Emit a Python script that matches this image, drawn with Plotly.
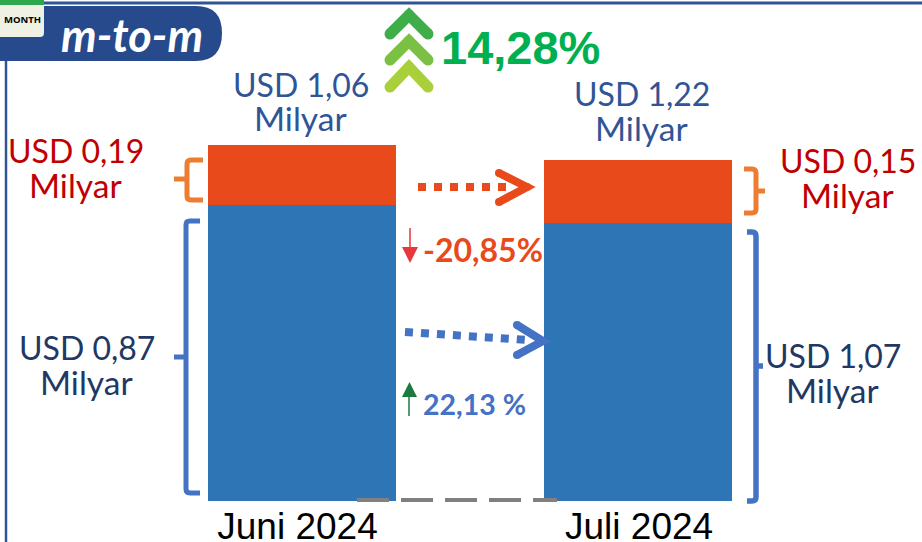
import plotly.graph_objects as go

W, H, BASE = 922, 542, 501

categories = ["Juni 2024", "Juli 2024"]
bar_positions = [0, 1]
label_positions = [-0.0134, 1.003]
# Bar heights as drawn in the picture (the drawing is not to scale with its labels)
ekspor_drawn = [0.87, 0.818]
impor_drawn = [0.176, 0.185]

NAVY = "#1F3864"; TOPBLUE = "#2F5597"; RED = "#C00000"
ORANGE = "#E84A1B"; BLUE = "#4472C4"; BRACE = "#ED7D31"

def X(x):
    return x / W
def Y(y):
    return (BASE - y) / BASE
def path(*cmds):
    s = ""
    for c in cmds:
        s += c if isinstance(c, str) else f"{X(c[0]):.5f},{Y(c[1]):.5f} "
    return s.strip()

fig = go.Figure()
fig.add_bar(x=bar_positions, y=ekspor_drawn, marker_color="#2E75B6", width=0.56, marker_line_width=0)
fig.add_bar(x=bar_positions, y=impor_drawn, marker_color=ORANGE, width=0.56, marker_line_width=0)

shapes = []
def stroke(d, color, width, dash=None):
    shapes.append(dict(type="path", xref="paper", yref="paper", path=d, fillcolor="rgba(0,0,0,0)",
                       line=dict(color=color, width=width, dash=dash)))
def fill(d, color):
    shapes.append(dict(type="path", xref="paper", yref="paper", path=d, fillcolor=color,
                       line=dict(color=color, width=0)))
def dot(x, y, d, color):
    r = d / 2
    shapes.append(dict(type="circle", xref="paper", yref="paper", x0=X(x - r), x1=X(x + r),
                       y0=Y(y + r), y1=Y(y - r), fillcolor=color, line=dict(color=color, width=0)))
def rounded(points, color, width):
    d = path("M", points[0], *[t for p in points[1:] for t in ("L", p)])
    stroke(d, color, width)
    for p in points:
        dot(p[0], p[1], width, color)

# Frame
stroke(path("M", (44, 3), "L", (922, 3)), "#2F5597", 3)
stroke(path("M", (6, 61), "L", (6, 542)), "#2F5597", 2.5)
fill(path("M", (0, 6), "L", (196, 6), "Q", (222, 6), (222, 33), "Q", (222, 61), (196, 61), "L", (0, 61), "Z"), "#264A8C")
fill(path("M", (0, 3), "L", (44, 3), "L", (44, 33), "Q", (44, 37), (40, 37), "L", (0, 37), "Z"), "#EEF1E4")
fill(path("M", (0, 0), "L", (44, 0), "L", (44, 5), "L", (0, 5), "Z"), "#2EA84E")

# Chevrons (drawn bottom first so that the upper one overlaps)
for (a, e), c in zip([(67, 87), (41, 60), (15, 34)], ["#A9D03A", "#7AC143", "#3FAE49"]):
    rounded([(390, e), (409, a), (428, e)], c, 11)

# Dotted arrows
stroke(path("M", (418, 187), "L", (507, 187)), ORANGE, 8, "8px,8px")
rounded([(499, 173), (527, 187), (499, 202)], ORANGE, 8)
stroke(path("M", (405, 332), "L", (528, 340)), BLUE, 8, "8px,8px")
rounded([(517, 325), (543, 341), (517, 355)], BLUE, 8)

# Small arrows
stroke(path("M", (410, 228), "L", (410, 250)), "#F0656A", 2)
fill(path("M", (402, 247), "L", (418, 247), "L", (410, 263), "Z"), "#E8383D")
stroke(path("M", (409, 396), "L", (409, 416)), "#1B7A3E", 1.5)
fill(path("M", (402, 397), "L", (417, 397), "L", (409.5, 382), "Z"), "#1B7A3E")

# Braces
def brace(x_end, x_bar, x_tip, y_top, y_mid, y_bot, color, width):
    s = 1 if x_bar > x_end else -1
    stroke(path("M", (x_end, y_top), "L", (x_bar - 4 * s, y_top), "Q", (x_bar, y_top), (x_bar, y_top + 4),
                "L", (x_bar, y_bot - 4), "Q", (x_bar, y_bot), (x_bar - 4 * s, y_bot), "L", (x_end, y_bot)), color, width)
    stroke(path("M", (x_bar, y_mid), "L", (x_tip, y_mid)), color, width)

brace(203, 187, 174, 160, 179, 200, BRACE, 5)
brace(744, 756, 765, 169, 191, 213, BRACE, 5)
brace(200, 186, 174, 221, 357, 493, BLUE, 5)
brace(747, 756, 763, 232, 366, 501, BLUE, 5.5)

# Baseline dashes
stroke(path("M", (357, 500), "L", (557, 500)), "#808080", 4, "32px,12px")

ann = []
def text(s, x, y, size, color, family="Lato", bold=False, italic=False):
    if bold:
        s = f"<b>{s}</b>"
    if italic:
        s = f"<i>{s}</i>"
    ann.append(dict(text=s, x=X(x), y=Y(y), xref="paper", yref="paper", showarrow=False,
                    xanchor="center", yanchor="middle",
                    font=dict(family=family, size=size, color=color)))

text("MONTH", 22, 19, 9.5, "#000000", "Open Sans", bold=True)
text("m-to-m", 132, 35, 45, "#FFFFFF", "Lato", bold=True, italic=True)
text("14,28%", 520, 47, 47, "#00B050", "Liberation Sans", bold=True)
for usd, x, y1, y2, c in [("USD 1,06", 301, 84, 118, TOPBLUE), ("USD 1,22", 642, 94, 128, TOPBLUE),
                          ("USD 0,19", 76, 150, 185, RED), ("USD 0,15", 848, 160, 195, RED),
                          ("USD 0,87", 87, 348, 382, NAVY), ("USD 1,07", 833, 355, 390, NAVY)]:
    text(usd, x, y1, 32, c)
    text("Milyar", x - 1, y2, 33.5, c)
text("-20,85%", 483, 249, 32, ORANGE, bold=True)
text("22,13 %", 475, 404, 28.5, BLUE, bold=True)

fig.update_layout(
    width=W, height=H, autosize=False, barmode="stack", showlegend=False,
    margin=dict(l=0, r=0, t=0, b=H - BASE, autoexpand=False), paper_bgcolor="white", plot_bgcolor="white",
    shapes=shapes, annotations=ann,
    xaxis=dict(range=[-0.8988, 1.845], showgrid=False, zeroline=False, showline=False, automargin=False,
               tickmode="array", tickvals=label_positions, ticktext=categories,
               ticks="", tickfont=dict(family="Liberation Sans", size=37, color="#000000")),
    yaxis=dict(range=[0, BASE / 340], visible=False, showgrid=False, zeroline=False, automargin=False),
)
fig.write_html("out.html", config={"displayModeBar": False},
               post_script="document.body.style.margin='0';")
